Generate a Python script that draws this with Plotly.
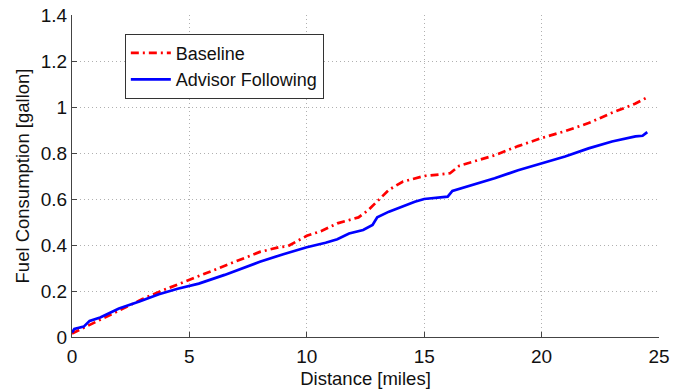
import plotly.graph_objects as go

# Baseline (red dash-dot)
base_dist = [0, 0.3, 0.8, 1.6, 2.5, 3.0, 3.7, 4.3, 5.0, 6.0, 7.0, 8.0, 8.8, 9.2,
             10.0, 10.6, 11.3, 12.2, 12.6, 13.1, 13.5, 14.1, 14.6, 15.0, 15.5,
             16.1, 16.5, 17.0, 18.0, 19.0, 20.0, 21.0, 22.0, 23.0, 24.0, 24.5]
base_fuel = [0.015, 0.03, 0.055, 0.095, 0.14, 0.165, 0.196, 0.22, 0.25, 0.29,
             0.33, 0.37, 0.39, 0.395, 0.44, 0.46, 0.494, 0.52, 0.55, 0.60, 0.64,
             0.676, 0.69, 0.70, 0.705, 0.712, 0.745, 0.76, 0.79, 0.83, 0.865,
             0.895, 0.93, 0.975, 1.015, 1.042]

# Advisor Following (blue solid)
adv_dist = [0, 0.1, 0.5, 0.75, 1.2, 2.0, 2.9, 3.7, 4.5, 5.0, 5.4, 6.5, 8.0, 9.0,
            10.0, 10.8, 11.3, 11.8, 12.4, 12.8, 13.0, 13.5, 14.1, 14.6, 15.0,
            15.5, 16.0, 16.2, 17.0, 18.0, 19.0, 20.0, 21.0, 22.0, 23.0, 24.0,
            24.3, 24.5]
adv_fuel = [0.02, 0.035, 0.045, 0.07, 0.085, 0.124, 0.155, 0.186, 0.21, 0.222,
            0.232, 0.27, 0.327, 0.36, 0.39, 0.41, 0.425, 0.45, 0.465, 0.487,
            0.52, 0.545, 0.57, 0.588, 0.60, 0.605, 0.61, 0.635, 0.66, 0.69,
            0.725, 0.756, 0.785, 0.82, 0.85, 0.872, 0.875, 0.891]

x_ticks = [0, 5, 10, 15, 20, 25]
y_ticks = [0, 0.2, 0.4, 0.6, 0.8, 1.0, 1.2, 1.4]
y_tick_text = ["0", "0.2", "0.4", "0.6", "0.8", "1", "1.2", "1.4"]

FONT = "Liberation Sans, Arial, Helvetica, sans-serif"
TXT = "#111111"

fig = go.Figure()
fig.add_trace(go.Scatter(x=base_dist, y=base_fuel, mode="lines", name="Baseline",
                         line=dict(color="#ff0000", width=2.7, dash="8px,4px,2px,4px")))
fig.add_trace(go.Scatter(x=adv_dist, y=adv_fuel, mode="lines", name="Advisor Following",
                         line=dict(color="#0000ff", width=2.7)))

axis_common = dict(
    showline=True, linecolor="#444444", linewidth=1,
    ticks="inside", ticklen=5, tickcolor="#444444", tickwidth=1,
    showgrid=True, gridcolor="#b0b0b0", gridwidth=1, griddash="1px,3px",
    zeroline=False, mirror=False, automargin=False,
    tickfont=dict(family=FONT, size=19, color=TXT),
)

fig.update_xaxes(range=[0, 25], tickvals=x_ticks, ticklabelstandoff=2,
                 title=dict(text="Distance [miles]", font=dict(family=FONT, size=18.5, color=TXT), standoff=6),
                 **axis_common)
fig.update_yaxes(range=[0, 1.4], tickvals=y_ticks, ticktext=y_tick_text,
                 title=dict(text="Fuel Consumption [gallon]", font=dict(family=FONT, size=18.5, color=TXT), standoff=6),
                 **axis_common)

fig.update_layout(
    width=686, height=392,
    margin=dict(l=72, r=27, t=15, b=55, pad=0),
    paper_bgcolor="white", plot_bgcolor="white",
    font=dict(family=FONT, size=18, color=TXT),
    showlegend=True,
    legend=dict(x=0.09, y=0.942, xanchor="left", yanchor="top",
                bgcolor="white", bordercolor="#333333", borderwidth=1,
                font=dict(family=FONT, size=18, color=TXT),
                itemwidth=40, tracegroupgap=0),
)

fig.write_html("out.html")
